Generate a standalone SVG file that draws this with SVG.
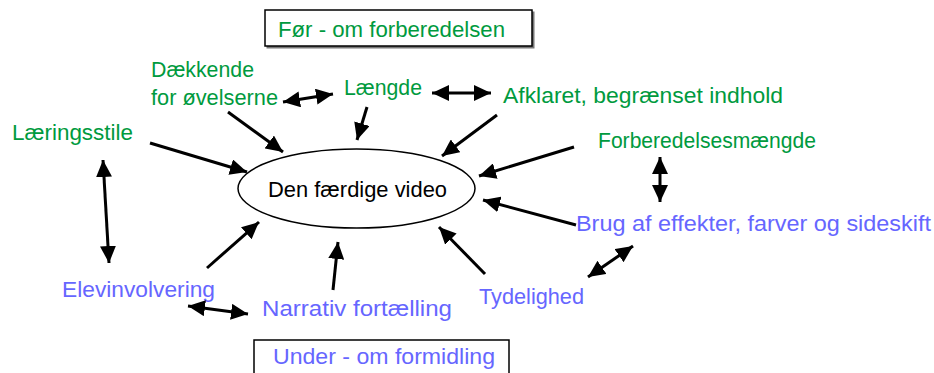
<svg xmlns="http://www.w3.org/2000/svg" width="934" height="373" viewBox="0 0 934 373">
  <style>
    .lbl { font-family: "Liberation Sans", Arial, sans-serif; font-size: 21.5px; }
    .green { fill: #009a3e; }
    .blue { fill: #6666ff; }
    .dark { fill: #000000; }
    .frame { fill: #ffffff; stroke: #000000; stroke-width: 1.5; }
    .shadow { fill: #777777; }
    .conn line { stroke: #000000; stroke-width: 3; marker-end: url(#head); }
    .conn line.both { marker-start: url(#head); }
  </style>
  <defs>
    <marker id="head" markerUnits="userSpaceOnUse" markerWidth="18" markerHeight="16" refX="17" refY="8" orient="auto-start-reverse">
      <path d="M0,0 L17,8 L0,16 Z" fill="#000000"/>
    </marker>
  </defs>
  <rect width="934" height="373" fill="#ffffff"/>

  <!-- section frames -->
  <g id="box-before">
    <rect class="shadow" x="266.5" y="11.5" width="268" height="37"/>
    <rect class="frame" x="265" y="10" width="267" height="36"/>
    <text class="lbl green" x="278" y="37" textLength="227" lengthAdjust="spacingAndGlyphs">Før - om forberedelsen</text>
  </g>
  <g id="box-during">
    <rect class="frame" x="254" y="340" width="255" height="40"/>
    <text class="lbl blue" x="273" y="364" textLength="222" lengthAdjust="spacingAndGlyphs">Under - om formidling</text>
  </g>

  <!-- centre node -->
  <g id="video">
    <ellipse cx="356.5" cy="188.5" rx="118.5" ry="39.5" fill="#ffffff" stroke="#000000" stroke-width="1.5"/>
    <text class="lbl dark" x="268" y="197" textLength="179" lengthAdjust="spacingAndGlyphs">Den færdige video</text>
  </g>

  <!-- preparation factors -->
  <g id="daekkende">
    <text class="lbl green" x="151" y="77" textLength="103" lengthAdjust="spacingAndGlyphs">Dækkende</text>
    <text class="lbl green" x="151" y="105" textLength="127" lengthAdjust="spacingAndGlyphs">for øvelserne</text>
  </g>
  <g id="laengde">
    <text class="lbl green" x="344" y="95" textLength="78" lengthAdjust="spacingAndGlyphs">Længde</text>
  </g>
  <g id="afklaret">
    <text class="lbl green" x="503" y="103" textLength="280" lengthAdjust="spacingAndGlyphs">Afklaret, begrænset indhold</text>
  </g>
  <g id="laeringsstile">
    <text class="lbl green" x="12" y="140" textLength="121" lengthAdjust="spacingAndGlyphs">Læringsstile</text>
  </g>
  <g id="forberedelsesmaengde">
    <text class="lbl green" x="598" y="148" textLength="218" lengthAdjust="spacingAndGlyphs">Forberedelsesmængde</text>
  </g>

  <!-- delivery factors -->
  <g id="brug">
    <text class="lbl blue" x="576" y="231" textLength="355" lengthAdjust="spacingAndGlyphs">Brug af effekter, farver og sideskift</text>
  </g>
  <g id="tydelighed">
    <text class="lbl blue" x="479" y="304" textLength="105" lengthAdjust="spacingAndGlyphs">Tydelighed</text>
  </g>
  <g id="elevinvolvering">
    <text class="lbl blue" x="62" y="297" textLength="153" lengthAdjust="spacingAndGlyphs">Elevinvolvering</text>
  </g>
  <g id="narrativ">
    <text class="lbl blue" x="262" y="316" textLength="190" lengthAdjust="spacingAndGlyphs">Narrativ fortælling</text>
  </g>

  <!-- connectors -->
  <g id="connectors" class="conn">
    <line class="both" x1="283" y1="102" x2="333" y2="94"/>
    <line class="both" x1="432" y1="93" x2="491" y2="93"/>
    <line x1="228" y1="112" x2="283" y2="152"/>
    <line x1="367" y1="107" x2="357" y2="140"/>
    <line x1="150" y1="143" x2="247" y2="172"/>
    <line class="both" x1="103" y1="160" x2="109" y2="263"/>
    <line x1="497" y1="115" x2="442" y2="156"/>
    <line x1="574" y1="147" x2="479" y2="176"/>
    <line class="both" x1="660" y1="157" x2="660" y2="202"/>
    <line x1="576" y1="225" x2="483" y2="200"/>
    <line class="both" x1="633" y1="246" x2="588" y2="277"/>
    <line x1="485" y1="274" x2="439" y2="227"/>
    <line x1="333" y1="290" x2="338" y2="242"/>
    <line x1="207" y1="268" x2="259" y2="222"/>
    <line class="both" x1="188" y1="306" x2="248" y2="314"/>
  </g>
</svg>
